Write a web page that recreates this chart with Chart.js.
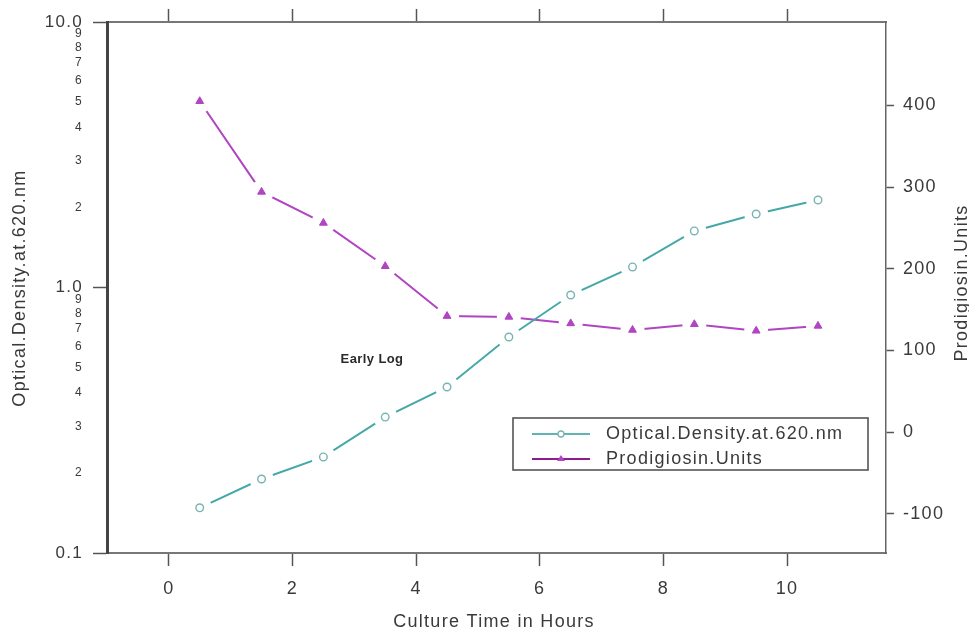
<!DOCTYPE html>
<html><head><meta charset="utf-8">
<script src="https://cdn.jsdelivr.net/npm/chart.js@4/dist/chart.umd.min.js"></script>
<style>html,body{margin:0;padding:0;background:#fff}</style>
</head><body>
<canvas id="c" width="969" height="632"></canvas>
<script>
// ---- data ----
const hours = [0.5, 1.5, 2.5, 3.5, 4.5, 5.5, 6.5, 7.5, 8.5, 9.5, 10.5];
const opticalDensity = [0.148, 0.190, 0.230, 0.325, 0.422, 0.651, 0.937, 1.195, 1.633, 1.892, 2.136];
const prodigiosin = [405, 294, 256, 203, 142, 141, 133, 125, 132, 124, 130];
const xTickValues = [0, 2, 4, 6, 8, 10];
const odTickValues = [0.1,0.2,0.3,0.4,0.5,0.6,0.7,0.8,0.9,1,2,3,4,5,6,7,8,9,10];
const odMajorLabels = {"0.1": "0.1", "1": "1.0", "10": "10.0"};
const prodTickValues = [-100, 0, 100, 200, 300, 400];
const odLabel = "Optical.Density.at.620.nm";
const prodLabel = "Prodigiosin.Units";
const xTitle = "Culture Time in Hours";
const noteText = "Early Log";

const TEAL = '#45a8a8', TEAL_PT = '#78b4b2', PURPLE = '#b144c2', PURPLE_LEG = '#8e1c90';
const TXT = '#3a3a3a';
const FONT = 'Liberation Sans, Arial, sans-serif';
const SPACING = '1.3px';

const odPts = hours.map((h, i) => ({x: h, y: opticalDensity[i]}));
const prPts = hours.map((h, i) => ({x: h, y: prodigiosin[i]}));

function isMajor(v) { return odMajorLabels[String(v)] !== undefined; }
function setTicks(values) { return (scale) => { scale.ticks = values.map(v => ({value: v})); }; }

const decor = {
  id: 'decor',
  beforeDraw(chart) { chart.ctx.letterSpacing = SPACING; },
  afterDraw(chart) {
    const ctx = chart.ctx;
    ctx.save();
    ctx.letterSpacing = SPACING;
    ctx.fillStyle = TXT;
    ctx.font = '18px ' + FONT;
    ctx.textAlign = 'center';
    ctx.textBaseline = 'middle';
    // bottom title
    ctx.fillText(xTitle, 494, 622);
    // left title
    ctx.save(); ctx.translate(20, 288); ctx.rotate(-Math.PI / 2); ctx.fillText(odLabel, 0, 0); ctx.restore();
    // right title
    ctx.save(); ctx.translate(962, 283); ctx.rotate(-Math.PI / 2); ctx.fillText(prodLabel, 0, 0); ctx.restore();
    // annotation
    ctx.letterSpacing = '0.4px';
    ctx.font = 'bold 13px ' + FONT;
    ctx.fillStyle = '#2a2a2a';
    ctx.fillText(noteText, 372, 359);
    // legend
    ctx.letterSpacing = SPACING;
    ctx.lineWidth = 1.6;
    ctx.strokeStyle = '#555';
    ctx.fillStyle = '#fff';
    ctx.fillRect(513, 418, 355, 52);
    ctx.strokeRect(513, 418, 355, 52);
    const items = [
      {y: 434, color: '#5fb5b5', text: odLabel, marker: 'circle'},
      {y: 459, color: PURPLE_LEG, text: prodLabel, marker: 'triangle'}
    ];
    ctx.font = '18px ' + FONT;
    ctx.textAlign = 'left';
    items.forEach(it => {
      ctx.strokeStyle = it.color; ctx.lineWidth = 2;
      ctx.beginPath(); ctx.moveTo(532, it.y); ctx.lineTo(590, it.y); ctx.stroke();
      if (it.marker === 'circle') {
        ctx.fillStyle = '#fff'; ctx.strokeStyle = TEAL_PT; ctx.lineWidth = 1.3;
        ctx.beginPath(); ctx.arc(561, it.y, 3, 0, Math.PI * 2); ctx.fill(); ctx.stroke();
      } else {
        ctx.fillStyle = PURPLE;
        ctx.beginPath(); ctx.moveTo(561, it.y - 4); ctx.lineTo(565, it.y + 2); ctx.lineTo(557, it.y + 2); ctx.closePath(); ctx.fill();
      }
      ctx.fillStyle = TXT;
      ctx.fillText(it.text, 606, it.y);
    });
    ctx.restore();
  }
};

new Chart(document.getElementById('c'), {
  type: 'line',
  data: {
    datasets: [
      {label: odLabel + ' markers', data: odPts, xAxisID: 'x', yAxisID: 'y', showLine: false, order: 0,
       pointStyle: 'circle', pointRadius: 3.8, pointBorderWidth: 1.4, pointBorderColor: TEAL_PT, pointBackgroundColor: '#fff'},
      {label: prodLabel + ' markers', data: prPts, xAxisID: 'x', yAxisID: 'y2', showLine: false, order: 0,
       pointStyle: 'triangle', pointRadius: 4.5, pointBorderWidth: 1, pointBorderColor: PURPLE, pointBackgroundColor: PURPLE},
      {label: 'od halo', data: odPts, xAxisID: 'x', yAxisID: 'y', showLine: false, order: 1,
       pointRadius: 12, pointBorderWidth: 0, pointBackgroundColor: '#fff', pointBorderColor: '#fff'},
      {label: 'pr halo', data: prPts, xAxisID: 'x', yAxisID: 'y2', showLine: false, order: 1,
       pointRadius: 12, pointBorderWidth: 0, pointBackgroundColor: '#fff', pointBorderColor: '#fff'},
      {label: odLabel, data: odPts, xAxisID: 'x', yAxisID: 'y', order: 2,
       borderColor: TEAL, borderWidth: 2, pointRadius: 0, tension: 0, fill: false},
      {label: prodLabel, data: prPts, xAxisID: 'x', yAxisID: 'y2', order: 2,
       borderColor: PURPLE, borderWidth: 2, pointRadius: 0, tension: 0, fill: false}
    ]
  },
  options: {
    responsive: false,
    animation: false,
    events: [],
    layout: {padding: 0},
    plugins: {legend: {display: false}, tooltip: {enabled: false}},
    scales: {
      x: {
        type: 'linear', position: 'bottom', min: -1, max: 11.6,
        afterBuildTicks: setTicks(xTickValues),
        afterFit: (s) => { s.height = 79; },
        grid: {drawOnChartArea: false, tickLength: 13, tickColor: '#555', tickWidth: 1.5},
        border: {color: '#777', width: 2},
        ticks: {color: TXT, font: {size: 18, family: FONT}, padding: 12, autoSkip: false, maxRotation: 0,
                callback: (v) => String(v)}
      },
      x2: {
        type: 'linear', axis: 'x', position: 'top', min: -1, max: 11.6,
        afterBuildTicks: setTicks(xTickValues),
        afterFit: (s) => { s.height = 22; },
        grid: {drawOnChartArea: false, tickLength: 13, tickColor: '#555', tickWidth: 1.5},
        border: {color: '#777', width: 2},
        ticks: {display: false}
      },
      y: {
        type: 'logarithmic', position: 'left', min: 0.1, max: 10,
        afterBuildTicks: setTicks(odTickValues),
        afterFit: (s) => { s.width = 107; },
        grid: {drawOnChartArea: false, tickLength: 14, tickWidth: 1.5,
               tickColor: (c) => (c.tick && isMajor(c.tick.value)) ? '#555' : 'rgba(0,0,0,0)'},
        border: {color: '#444', width: 3},
        ticks: {color: TXT, padding: 10, autoSkip: false,
                font: (c) => (c.tick && isMajor(c.tick.value)) ? {size: 17, family: FONT} : {size: 12, family: FONT},
                callback: (v) => {
                  if (isMajor(v)) return odMajorLabels[String(v)];
                  const p = Math.pow(10, Math.floor(Math.log10(v) + 1e-9));
                  return String(Math.round(v / p));
                }}
      },
      y2: {
        type: 'linear', position: 'right', min: -148, max: 502,
        afterBuildTicks: setTicks(prodTickValues),
        afterFit: (s) => { s.width = 83; },
        grid: {drawOnChartArea: false, tickLength: 8, tickColor: '#555', tickWidth: 1.5},
        border: {color: '#666', width: 1.5},
        ticks: {color: TXT, font: {size: 18, family: FONT}, padding: 9, autoSkip: false,
                callback: (v) => String(v)}
      }
    }
  },
  plugins: [decor]
});
</script>
</body></html>
